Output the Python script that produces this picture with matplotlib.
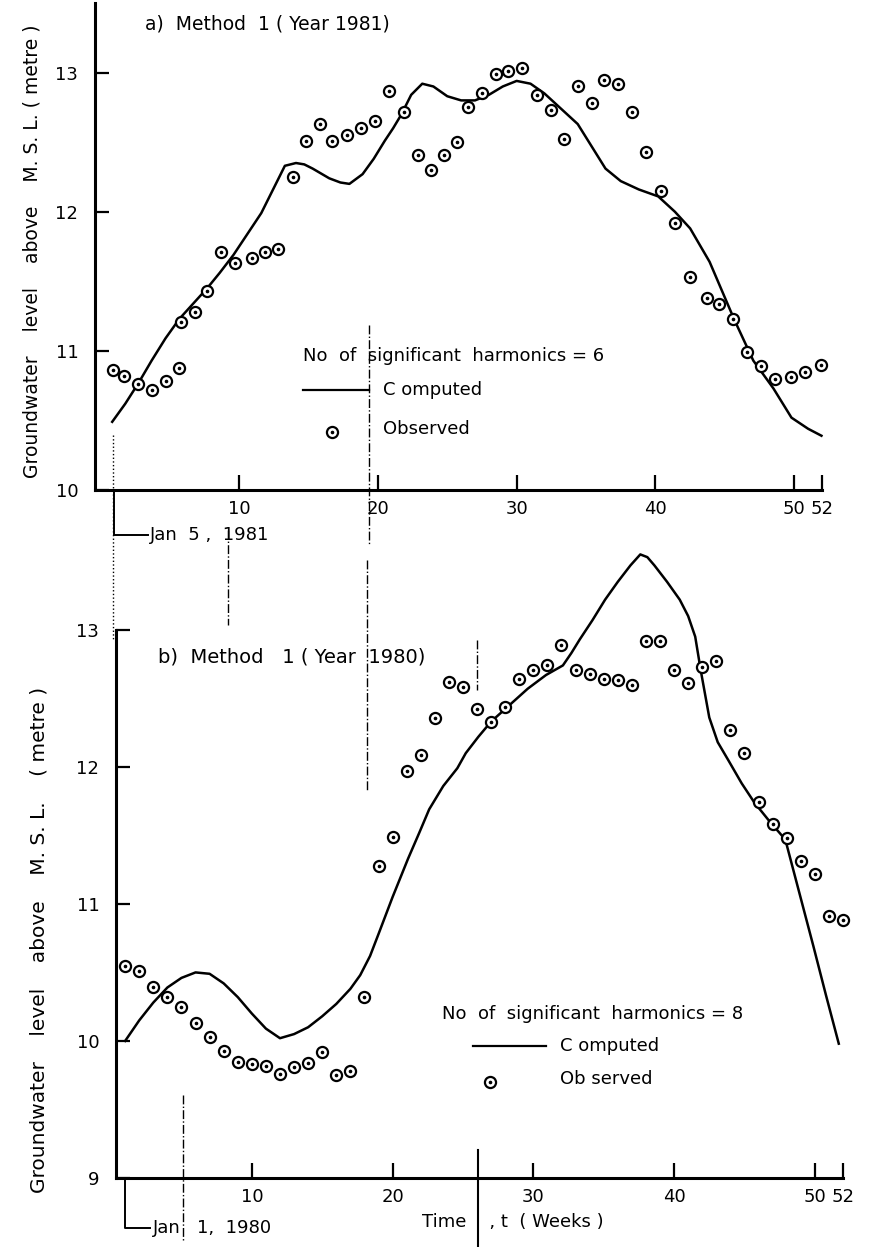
import matplotlib.pyplot as plt
import matplotlib.transforms as mtransforms
from matplotlib.lines import Line2D

# a) Method 1 (Year 1981): observed levels (m above M.S.L.)
week_obs_1981 = [0.9, 1.7, 2.7, 3.7, 4.7, 5.7, 5.8, 6.8, 7.7, 8.7, 9.7, 10.9, 11.9,
                 12.8, 13.9, 14.8, 15.8, 16.7, 17.8, 18.8, 19.8, 20.8, 21.9, 22.9,
                 23.8, 24.8, 25.7, 26.5, 27.5, 28.5, 29.4, 30.4, 31.5, 32.5, 33.4,
                 34.4, 35.4, 36.3, 37.3, 38.3, 39.3, 40.4, 41.4, 42.5, 43.7, 44.6,
                 45.6, 46.6, 47.6, 48.6, 49.8, 50.8, 51.9]
level_obs_1981 = [10.86, 10.82, 10.76, 10.72, 10.78, 10.88, 11.21, 11.28, 11.43, 11.71,
                  11.63, 11.67, 11.71, 11.73, 12.25, 12.51, 12.63, 12.51, 12.55, 12.60,
                  12.65, 12.87, 12.72, 12.41, 12.30, 12.41, 12.50, 12.75, 12.85, 12.99,
                  13.01, 13.03, 12.84, 12.73, 12.52, 12.90, 12.78, 12.95, 12.92, 12.72,
                  12.43, 12.15, 11.92, 11.53, 11.38, 11.34, 11.23, 10.99, 10.89, 10.80,
                  10.81, 10.85, 10.90]

# computed curve, 6 significant harmonics
week_fit_1981 = [0.86, 1.8, 2.76, 3.7, 4.7, 5.7, 6.7, 7.7, 8.6, 9.6, 10.6, 11.6, 12.5,
                 13.3, 14.1, 14.7, 15.3, 16.5, 17.3, 17.95, 18.9, 19.7, 20.5, 21.1,
                 21.7, 22.4, 23.2, 24.0, 25.0, 26.0, 27.0, 28.0, 29.0, 30.0, 31.0,
                 32.0, 33.2, 34.4, 35.4, 36.4, 37.5, 38.8, 40.2, 41.4, 42.5, 43.9,
                 44.8, 45.7, 47.05, 48.5, 49.8, 51.0, 51.96]
level_fit_1981 = [10.49, 10.62, 10.77, 10.93, 11.09, 11.23, 11.34, 11.45, 11.56, 11.69,
                  11.84, 11.99, 12.17, 12.33, 12.35, 12.34, 12.31, 12.24, 12.21, 12.20,
                  12.27, 12.38, 12.51, 12.60, 12.70, 12.84, 12.92, 12.90, 12.83, 12.80,
                  12.80, 12.84, 12.90, 12.94, 12.92, 12.85, 12.74, 12.63, 12.47, 12.31,
                  12.22, 12.16, 12.11, 12.00, 11.88, 11.64, 11.43, 11.22, 10.93, 10.73,
                  10.52, 10.44, 10.39]

# b) Method 1 (Year 1980): observed levels, one per week
week_obs_1980 = list(range(1, 53))
level_obs_1980 = [10.55, 10.51, 10.39, 10.32, 10.25, 10.13, 10.03, 9.93, 9.85, 9.83,
                  9.82, 9.76, 9.81, 9.84, 9.92, 9.75, 9.78, 10.32, 11.28, 11.49,
                  11.97, 12.09, 12.36, 12.62, 12.58, 12.42, 12.33, 12.44, 12.64, 12.71,
                  12.74, 12.89, 12.71, 12.68, 12.64, 12.63, 12.60, 12.92, 12.92, 12.71,
                  12.61, 12.73, 12.77, 12.27, 12.10, 11.74, 11.58, 11.48, 11.31, 11.22,
                  10.91, 10.88]

# computed curve, 8 significant harmonics
week_fit_1980 = [1.0, 2.0, 3.0, 4.0, 5.0, 6.0, 7.0, 8.0, 9.0, 10.0, 11.0, 12.0, 13.0,
                 14.0, 15.0, 16.0, 17.0, 17.7, 18.4, 19.0, 20.0, 21.1, 21.9, 22.6,
                 23.6, 24.6, 25.2, 26.1, 27.0, 28.3, 29.6, 30.9, 32.1, 32.7, 33.3,
                 34.2, 35.1, 36.0, 36.9, 37.6, 38.1, 38.6, 39.5, 40.4, 41.0, 41.5,
                 41.9, 42.5, 43.1, 43.9, 44.8, 45.7, 46.8, 47.9, 48.9, 49.9, 50.8, 51.7]
level_fit_1980 = [10.00, 10.15, 10.28, 10.39, 10.46, 10.50, 10.49, 10.42, 10.32, 10.20,
                  10.09, 10.02, 10.05, 10.10, 10.18, 10.27, 10.38, 10.48, 10.62, 10.78,
                  11.05, 11.33, 11.52, 11.69, 11.86, 11.99, 12.10, 12.22, 12.33, 12.45,
                  12.57, 12.67, 12.74, 12.83, 12.93, 13.07, 13.22, 13.35, 13.47, 13.55,
                  13.53, 13.47, 13.35, 13.22, 13.10, 12.95, 12.70, 12.36, 12.18, 12.04,
                  11.88, 11.74, 11.60, 11.47, 11.08, 10.69, 10.33, 9.98]

week_ticks = [10, 20, 30, 40, 50, 52]

W, H = 869, 1247
fig = plt.figure(figsize=(W / 100, H / 100), dpi=100)
plt.rcParams['font.family'] = ['DejaVu Sans']
FS = 13


def panel(rect, ylim, yticks, x_left, spine_top):
    ax = fig.add_axes(rect)
    ax.patch.set_visible(False)
    ax.set_xlim(x_left, 52)
    ax.set_ylim(*ylim)
    for s in ['top', 'right']:
        ax.spines[s].set_visible(False)
    for s in ['left', 'bottom']:
        ax.spines[s].set_linewidth(2.2)
    ax.spines['left'].set_bounds(yticks[0], spine_top)
    ax.set_xticks(week_ticks)
    ax.set_yticks(yticks)
    ax.tick_params(axis='x', direction='in', length=11, width=1.6, pad=7, labelsize=FS)
    ax.tick_params(axis='y', direction='in', length=10, width=1.6, pad=12, labelsize=FS)
    return ax


def observed(ax, wk, lv, **kw):
    ax.plot(wk, lv, ls='none', marker='o', ms=8, mfc='white', mec='black', mew=1.6, **kw)
    ax.plot(wk, lv, ls='none', marker='o', ms=1.6, color='black', **kw)


def draw(ax, wk_fit, lv_fit, wk_obs, lv_obs):
    ax.plot(wk_fit, lv_fit, color='black', lw=1.8, clip_on=False, zorder=3)
    observed(ax, wk_obs, lv_obs, clip_on=False, zorder=4)


def legend(ax, t_txt, v_txt, n, t_line, v_line, t_mark, v_obs, obs_label):
    ax.text(t_txt, v_txt, 'No  of  significant  harmonics = %d' % n, fontsize=FS, va='center')
    ax.plot([t_line[0], t_line[1]], [v_line, v_line], color='black', lw=1.6)
    ax.text(t_line[1] + 1.0, v_line, 'C omputed', fontsize=FS, va='center')
    observed(ax, [t_mark], [v_obs])
    ax.text(t_line[1] + 1.0, v_obs + 0.02, obs_label, fontsize=FS, va='center')


def date_mark(ax, drop, t_end, label):
    tr = mtransforms.blended_transform_factory(ax.transData, ax.transAxes)
    ax.plot([1, 1, t_end], [0, -drop, -drop], color='black', lw=1.4, transform=tr,
            clip_on=False)
    ax.text(t_end + 0.15, -drop, label, transform=tr, fontsize=FS, va='center')


# top panel
ax1 = panel([95 / W, 1 - 490 / H, 727 / W, 487 / H], (10, 13.5), [10, 11, 12, 13], -0.38, 13.5)
draw(ax1, week_fit_1981, level_fit_1981, week_obs_1981, level_obs_1981)
ax1.text(3.25, 13.35, 'a)  Method  1 ( Year 1981)', fontsize=13.5, va='center')
legend(ax1, 14.6, 10.96, 6, (14.6, 19.35), 10.72, 16.7, 10.42, 'Observed')
date_mark(ax1, 0.092, 3.45, 'Jan  5 ,  1981')
ax1.text(-0.087, 0.49, 'Groundwater    level    above    M. S. L. ( metre )',
         transform=ax1.transAxes, rotation=90, fontsize=13.5, ha='center', va='center')

# bottom panel
ax2 = panel([116 / W, 1 - 1178 / H, 727 / W, 651 / H], (9, 13.75), [9, 10, 11, 12, 13], 0.35, 13)
draw(ax2, week_fit_1980, level_fit_1980, week_obs_1980, level_obs_1980)
ax2.text(3.3, 12.80, 'b)  Method   1 ( Year  1980)', fontsize=14, va='center')
legend(ax2, 23.5, 10.20, 8, (25.7, 30.9), 9.96, 26.9, 9.70, 'Ob served')
date_mark(ax2, 0.077, 2.8, 'Jan   1,  1980')
ax2.text(22.1, -0.068, 'Time    , t  ( Weeks )', transform=ax2.get_xaxis_transform(),
         fontsize=FS, ha='left', va='center')
ax2.text(-0.106, 0.366, 'Groundwater    level    above    M. S. L.    ( metre )',
         transform=ax2.transAxes, rotation=90, fontsize=14.5, ha='center', va='center')

# stray guide lines of the scanned sheet (pixel positions)
guides = [(113, 435, 640, ':'), (228, 530, 625, '-.'), (369, 325, 545, '-.'),
          (367, 560, 790, '-.'), (477, 640, 690, '-.'), (183, 1095, 1240, '-.'),
          (478, 1150, 1247, '-')]
for gx, y0, y1, st in guides:
    fig.add_artist(Line2D([gx / W, gx / W], [1 - y0 / H, 1 - y1 / H], color='black',
                          lw=1.0 if st != '-' else 1.5, ls=st))

fig.savefig('out.png', dpi=100, facecolor='white')
